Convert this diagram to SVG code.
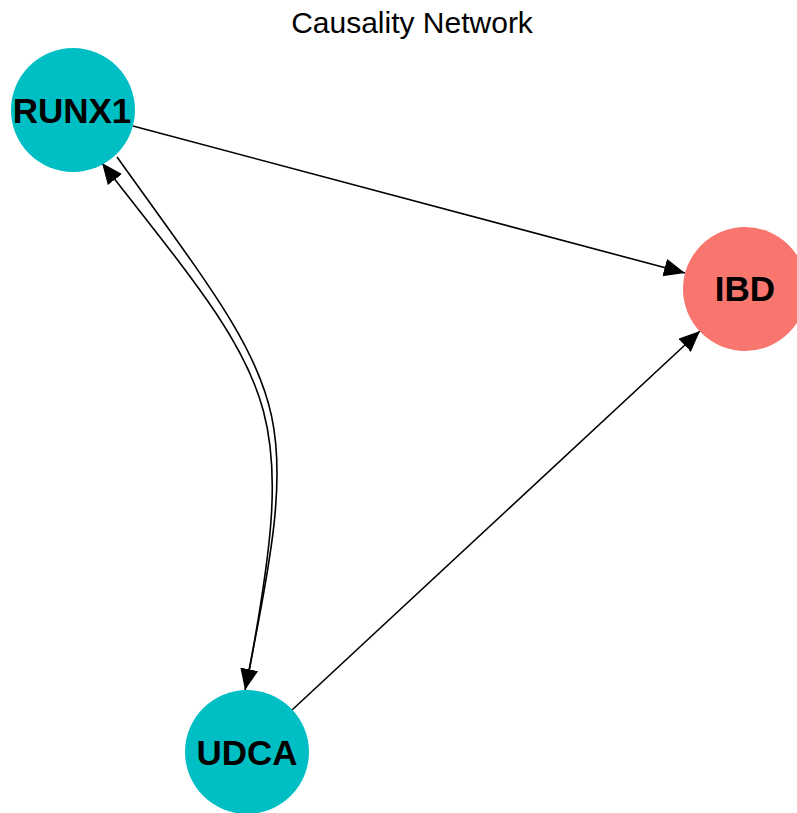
<svg xmlns="http://www.w3.org/2000/svg" width="797" height="813" viewBox="0 0 797 813">
<style>
.title{font-family:"Liberation Sans",Arial,sans-serif;font-size:30px;fill:#000;text-anchor:middle}
.lbl{font-family:"Liberation Sans",Arial,sans-serif;font-size:35px;font-weight:bold;fill:#000;text-anchor:middle}
.teal{fill:#00BFC4}
.red{fill:#F8766D}
.edge{fill:none;stroke:#000;stroke-width:1.6}
</style>
<defs>
<marker id="arr" markerUnits="userSpaceOnUse" markerWidth="24" markerHeight="20" refX="21" refY="9" orient="auto">
<path d="M0,0 L21,9 L0,18 z" fill="#000"/>
</marker>
</defs>
<rect width="797" height="813" fill="#fff"/>
<text class="title" x="412" y="33">Causality Network</text>
<g id="connectors">
<path class="edge" d="M133,126 L685,273" marker-end="url(#arr)"/>
<path class="edge" d="M292,710 L700,331" marker-end="url(#arr)"/>
<path class="edge" d="M117,157 C291,400 305,396 245,690" marker-end="url(#arr)"/>
<path class="edge" d="M246,688 C300,400 280,390 102,163" marker-end="url(#arr)"/>
</g>
<g id="node-RUNX1">
<circle class="teal" cx="73" cy="110" r="62"/>
<text class="lbl" x="72" y="123">RUNX1</text>
</g>
<g id="node-IBD">
<circle class="red" cx="745" cy="289" r="62"/>
<text class="lbl" x="745" y="301">IBD</text>
</g>
<g id="node-UDCA">
<circle class="teal" cx="247" cy="752" r="62"/>
<text class="lbl" x="247" y="765">UDCA</text>
</g>
</svg>
